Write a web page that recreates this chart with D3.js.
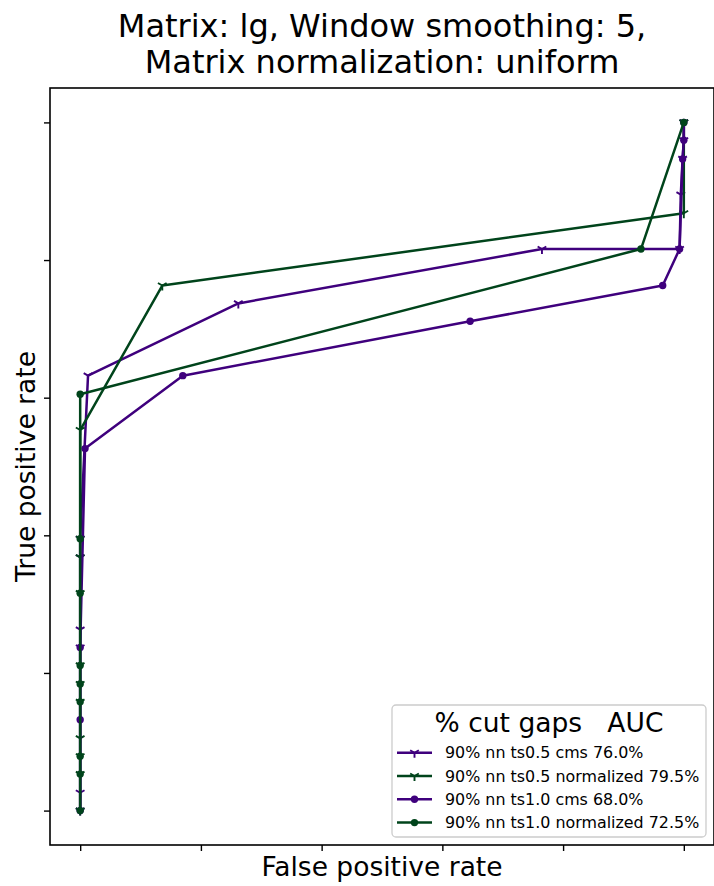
<!DOCTYPE html>
<html><head><meta charset="utf-8">
<script src="https://cdn.jsdelivr.net/npm/d3@7"></script>
<style>body{margin:0;background:#fff}svg{display:block}text{font-family:"DejaVu Sans",sans-serif}</style>
</head><body>
<script>
const titleLines = ["Matrix: lg, Window smoothing: 5,", "Matrix normalization: uniform"];
const xLabel = "False positive rate";
const yLabel = "True positive rate";
const legendTitle = "% cut gaps   AUC";
const seriesNames = ["90% nn ts0.5 cms 76.0%", "90% nn ts0.5 normalized 79.5%", "90% nn ts1.0 cms 68.0%", "90% nn ts1.0 normalized 72.5%"];
const seriesColors = ["#3f007d", "#00441b", "#3f007d", "#00441b"];
const seriesMarkers = ["tri", "tri", "circle", "circle"];
const xTicks = [0, 0.2, 0.4, 0.6, 0.8, 1.0];
const yTicks = [0, 0.2, 0.4, 0.6, 0.8, 1.0];

const fprA = [0, 0, 0, 0, 0, 0, 0.013, 0.262, 0.765, 0.993, 0.995, 0.998, 1.0, 1.0];
const tprA = [0, 0.026, 0.237, 0.263, 0.368, 0.395, 0.632, 0.737, 0.816, 0.816, 0.895, 0.947, 0.974, 1.0];
const fprB = [0, 0, 0, 0, 0, 0, 0, 0, 0, 0, 0, 0.136, 1.0, 1.0];
const tprB = [0, 0.053, 0.079, 0.105, 0.158, 0.184, 0.211, 0.316, 0.368, 0.395, 0.553, 0.763, 0.868, 1.0];
const fprC = [0, 0, 0, 0.008, 0.170, 0.646, 0.965, 0.993, 0.998, 1.0, 1.0];
const tprC = [0, 0.132, 0.237, 0.526, 0.632, 0.711, 0.763, 0.816, 0.947, 0.974, 1.0];
const fprD = [0, 0, 0, 0, 0, 0, 0, 0, 0, 0.929, 1.0];
const tprD = [0, 0.053, 0.079, 0.158, 0.184, 0.211, 0.316, 0.395, 0.605, 0.816, 1.0];

const seriesFpr = [fprA, fprB, fprC, fprD];
const seriesTpr = [tprA, tprB, tprC, tprD];

const W = 714, H = 886;
const L = 50, R = 714, T = 88, B = 845;
const svg = d3.select("body").append("svg").attr("width", W).attr("height", H);
const x = d3.scaleLinear().domain([-0.05, 1.05]).range([L, R]);
const y = d3.scaleLinear().domain([-0.05, 1.05]).range([B, T]);

// title
svg.append("text").attr("x", (L + R) / 2).attr("text-anchor", "middle")
  .style("font-size", "32px").selectAll("tspan").data(titleLines).join("tspan")
  .attr("x", (L + R) / 2).attr("y", (d, i) => 37 + i * 36).text(d => d);

// axes
const gx = svg.append("g").attr("transform", `translate(0,${B})`)
  .call(d3.axisBottom(x).tickValues(xTicks).tickSize(6).tickFormat(""));
const gy = svg.append("g").attr("transform", `translate(${L},0)`)
  .call(d3.axisLeft(y).tickValues(yTicks).tickSize(6).tickFormat(""));
[gx, gy].forEach(g => { g.select(".domain").remove(); g.selectAll("line").attr("stroke", "#000").attr("stroke-width", 1.4); });

const plot = svg.append("g");
function triPath(cx, cy, r) {
  const s = r * 0.866, h = r * 0.5;
  return `M${cx},${cy}L${cx},${cy + r}M${cx},${cy}L${cx - s},${cy - h}M${cx},${cy}L${cx + s},${cy - h}`;
}
function drawMarker(g, kind, cx, cy, color) {
  if (kind === "tri") {
    g.append("path").attr("d", triPath(cx, cy, 5)).attr("stroke", color).attr("stroke-width", 1.9).attr("fill", "none");
  } else {
    g.append("circle").attr("cx", cx).attr("cy", cy).attr("r", 3.7).attr("fill", color);
  }
}
const line = d3.line().x(d => x(d[0])).y(d => y(d[1]));
seriesNames.forEach((name, i) => {
  const pts = seriesFpr[i].map((f, j) => [f, seriesTpr[i][j]]);
  const g = plot.append("g");
  g.append("path").datum(pts).attr("d", line).attr("fill", "none")
    .attr("stroke", seriesColors[i]).attr("stroke-width", 2.5).attr("stroke-linejoin", "round");
  pts.forEach(p => drawMarker(g, seriesMarkers[i], x(p[0]), y(p[1]), seriesColors[i]));
});

// frame
svg.append("rect").attr("x", L).attr("y", T).attr("width", R - L).attr("height", B - T)
  .attr("fill", "none").attr("stroke", "#000").attr("stroke-width", 1.6);

// axis labels
svg.append("text").attr("x", (L + R) / 2).attr("y", 876).attr("text-anchor", "middle")
  .style("font-size", "26.5px").text(xLabel);
svg.append("text").attr("transform", `translate(35,${(T + B) / 2}) rotate(-90)`).attr("text-anchor", "middle")
  .style("font-size", "26.5px").text(yLabel);

// legend
const lg = svg.append("g");
lg.append("rect").attr("x", 392).attr("y", 705).attr("width", 314).attr("height", 132).attr("rx", 4)
  .attr("fill", "#fff").attr("fill-opacity", 0.8).attr("stroke", "#ccc").attr("stroke-width", 1.3);
lg.append("text").attr("x", 549).attr("y", 732).attr("text-anchor", "middle")
  .style("font-size", "26.5px").style("white-space", "pre").attr("xml:space", "preserve").text(legendTitle);
seriesNames.forEach((name, i) => {
  const cy = 752.7 + i * 23.3;
  lg.append("line").attr("x1", 397).attr("x2", 432).attr("y1", cy).attr("y2", cy)
    .attr("stroke", seriesColors[i]).attr("stroke-width", 2.5);
  drawMarker(lg, seriesMarkers[i], 414.5, cy, seriesColors[i]);
  lg.append("text").attr("x", 445).attr("y", cy + 5.5).style("font-size", "15.9px").text(name);
});
</script>
</body></html>
